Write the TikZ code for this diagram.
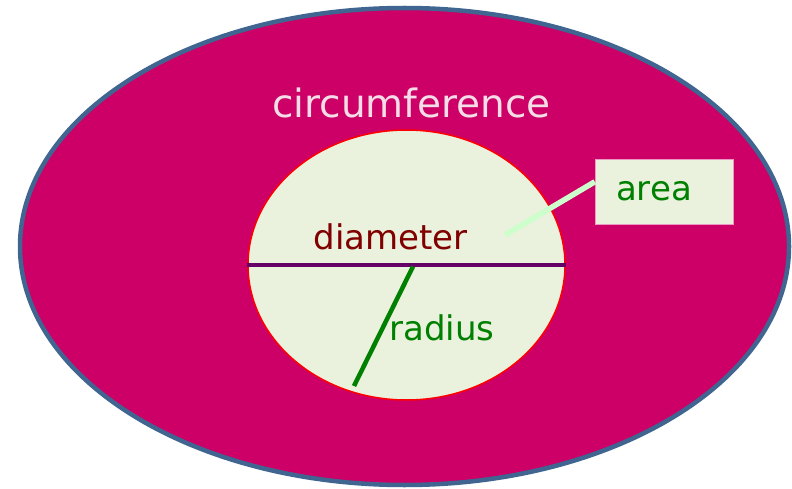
\documentclass[tikz,border=0pt]{standalone}
\usepackage{fontspec}
\setmainfont{DejaVu Sans}
\usetikzlibrary{shapes.geometric,positioning}
\definecolor{plate}{HTML}{CC0066}
\definecolor{rim}{HTML}{3F6590}
\definecolor{pale}{HTML}{EAF1DD}
\definecolor{pinktext}{HTML}{F4DDE6}
\definecolor{maroon}{HTML}{800000}
\definecolor{leaf}{HTML}{008000}
\definecolor{mint}{HTML}{CCFFCC}
\definecolor{plum}{HTML}{660066}

\begin{document}
\begin{tikzpicture}[x=1pt,y=-1pt]
\tikzstyle{blob}=[ellipse,inner sep=0pt]
\tikzstyle{word}=[anchor=base,inner sep=0pt,font=\fontsize{34}{40}\selectfont]
\useasboundingbox (0,0) rectangle (792,489);
\node[blob,fill=plate,draw=rim,line width=4.5pt,minimum width=769pt,minimum height=477pt] (outer) at (404.5,246.5) {};
\node[blob,fill=pale,draw=red,line width=1.5pt,minimum width=317pt,minimum height=270pt] (disc) at (406.5,265) {};
\node[word,text=pinktext,font=\fontsize{39}{44}\selectfont] (circ) at (411.5,118) {circumference};
\node[word,text=maroon] (diam) at (390.5,249) {diameter};
\node[word,text=leaf] (rad) at (442,340) {radius};
\node[draw=plate!40,fill=pale,minimum width=138pt,minimum height=65pt,inner xsep=21pt,text width=96pt,align=left,text=leaf,font=\fontsize{34}{40}\selectfont] (areabox) at (664,191.5) {area};
\coordinate (rstart) at (413,266.5);
\coordinate (rend) at (354,386);
\coordinate (areatip) at (505,235);

\draw[plum,line width=4.5pt] (disc.west) -- (disc.east);
\draw[leaf,line width=4.5pt] (rstart) -- (rend);
\draw[mint,line width=5.5pt] (areabox.172) -- (areatip);
\end{tikzpicture}
\end{document}
